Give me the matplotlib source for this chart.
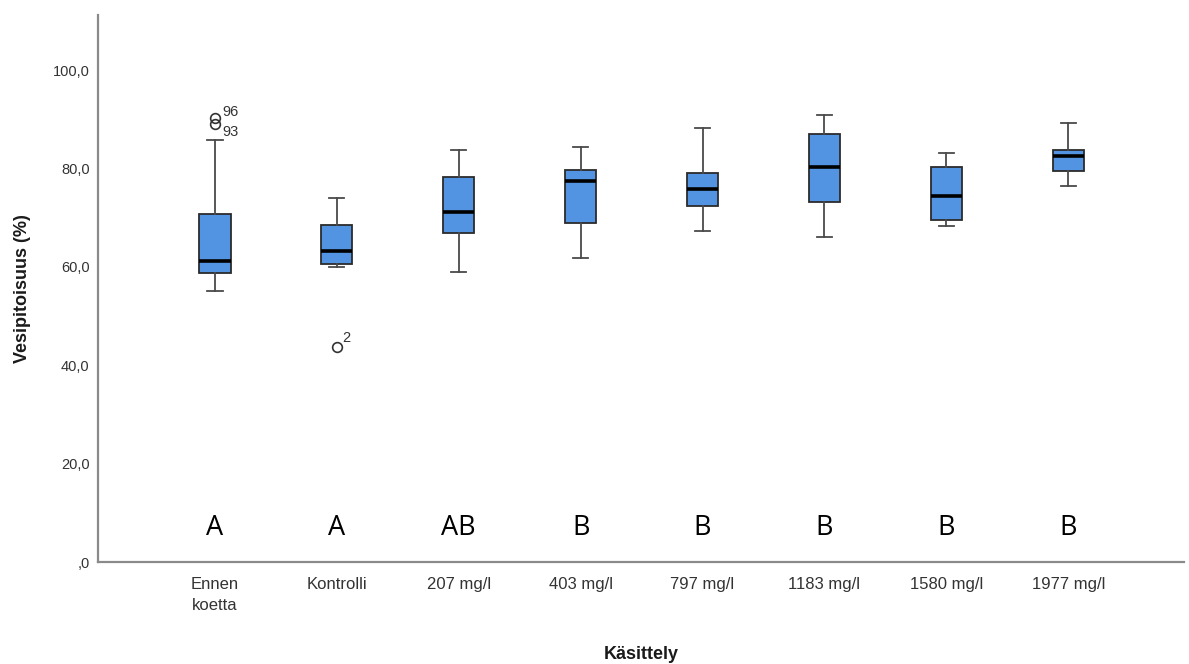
import matplotlib
matplotlib.use("Agg")
import matplotlib.pyplot as plt

categories = ["Ennen\nkoetta", "Kontrolli", "207 mg/l", "403 mg/l", "797 mg/l",
              "1183 mg/l", "1580 mg/l", "1977 mg/l"]
whisker_low = [55.1, 60.0, 58.9, 61.8, 67.3, 66.0, 68.4, 76.4]
q1 = [58.8, 60.6, 66.8, 69.0, 72.4, 73.2, 69.5, 79.4]
median = [61.2, 63.2, 71.1, 77.4, 75.8, 80.4, 74.5, 82.5]
q3 = [70.7, 68.6, 78.2, 79.7, 79.1, 87.1, 80.2, 83.7]
whisker_high = [85.8, 74.0, 83.7, 84.3, 88.3, 90.9, 83.2, 89.3]
outliers = [[90.3, 89.1], [43.8], [], [], [], [], [], []]
outlier_ids = [["96", "93"], ["2"], [], [], [], [], [], []]
group_letters = ["A", "A", "AB", "B", "B", "B", "B", "B"]
yticks = [0, 20, 40, 60, 80, 100]
ytick_labels = [",0", "20,0", "40,0", "60,0", "80,0", "100,0"]

fig = plt.figure(figsize=(11.89, 6.64), dpi=100)
ax = fig.add_axes([0.0824, 0.1536, 0.9134, 0.8238])

stats = []
for i in range(len(categories)):
    stats.append(dict(whislo=whisker_low[i], q1=q1[i], med=median[i], q3=q3[i],
                      whishi=whisker_high[i], fliers=outliers[i]))

positions = list(range(1, len(categories) + 1))
ax.bxp(stats, positions=positions, widths=0.255, patch_artist=True,
       showfliers=True, capwidths=0.125,
       boxprops=dict(facecolor="#5294e2", edgecolor="#2b2b2b", linewidth=1.3),
       medianprops=dict(color="black", linewidth=2.6),
       whiskerprops=dict(color="#4a4a4a", linewidth=1.3),
       capprops=dict(color="#4a4a4a", linewidth=1.3),
       flierprops=dict(marker="o", markerfacecolor="none", markeredgecolor="#333333",
                       markersize=7, markeredgewidth=1.2))

# outlier labels
offsets = [(5, -1, "bottom"), (5, -1, "top")]
for i, (vals, ids) in enumerate(zip(outliers, outlier_ids)):
    for j, (v, lab) in enumerate(zip(vals, ids)):
        if len(vals) > 1:
            dx, dy, va = offsets[j]
        else:
            dx, dy, va = (4, 1, "bottom")
        ax.annotate(lab, (positions[i], v), xytext=(dx, dy), textcoords="offset points",
                    fontsize=10.5, color="#333333", ha="left", va=va,
                    family="Liberation Sans")

for p, letter in zip(positions, group_letters):
    ax.text(p, 7.0, letter, ha="center", va="center", fontsize=19.5,
            family="Open Sans", color="black")

ax.set_xlim(0.04, 8.95)
ax.set_ylim(0, 111.2)
ax.set_yticks(yticks)
ax.set_yticklabels(ytick_labels, family="Liberation Sans", fontsize=10.5, color="#333333")
ax.set_xticks(positions)
ax.set_xticklabels(categories, family="Liberation Sans", fontsize=12, color="#333333",
                   linespacing=1.5)
ax.tick_params(axis="y", length=0, pad=6)
ax.tick_params(axis="x", length=0, pad=10.5)

for s in ["top", "right"]:
    ax.spines[s].set_visible(False)
for s in ["left", "bottom"]:
    ax.spines[s].set_color("#8a8a8a")
    ax.spines[s].set_linewidth(1.6)

ax.set_ylabel("Vesipitoisuus (%)", family="Liberation Sans", fontsize=13,
              fontweight="bold", color="#1a1a1a", labelpad=16)
ax.set_xlabel("Käsittely", family="Liberation Sans", fontsize=13,
              fontweight="bold", color="#1a1a1a", labelpad=24)

fig.savefig("out.png", dpi=100)
